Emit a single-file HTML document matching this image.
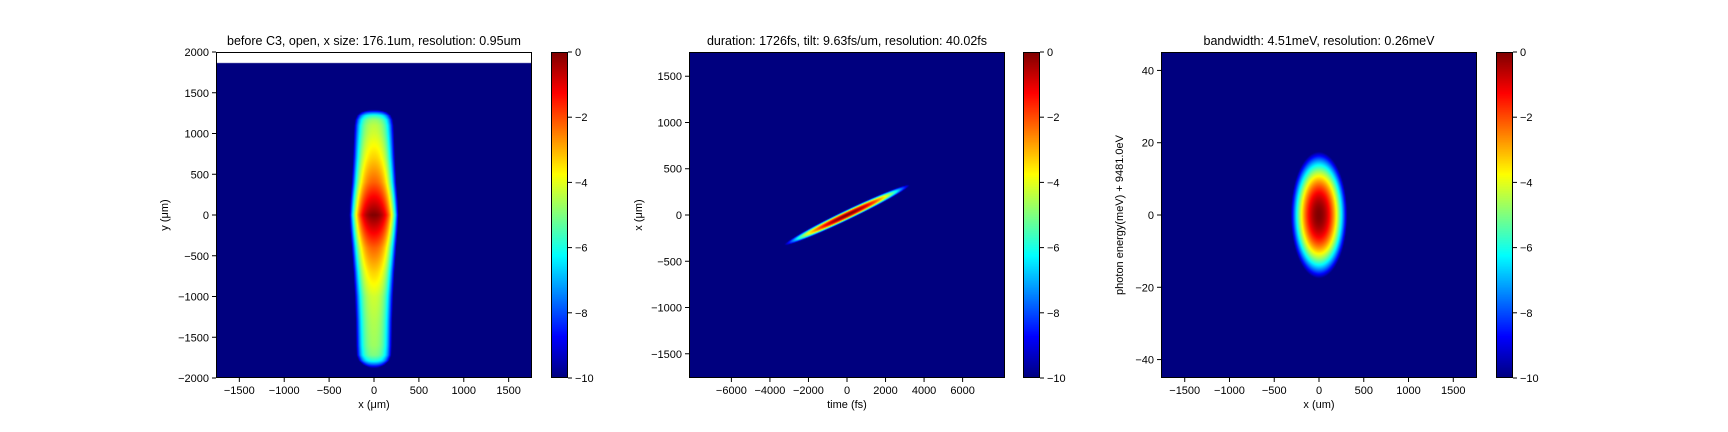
<!DOCTYPE html>
<html><head><meta charset="utf-8"><style>
html,body{margin:0;padding:0;background:#fff;width:1728px;height:432px;overflow:hidden;font-family:"Liberation Sans","DejaVu Sans",sans-serif}
canvas{position:absolute}
svg{position:absolute;left:0;top:0}
</style></head><body>
<div id="root" style="position:relative;width:1728px;height:432px">
<canvas id="c1"></canvas>
<canvas id="c2"></canvas>
<canvas id="c3"></canvas>
<canvas id="cb1"></canvas>
<canvas id="cb2"></canvas>
<canvas id="cb3"></canvas>
<svg id="ov" width="1728" height="432"></svg>
</div>
<script>
// ---- data ----
const titles = ["before C3, open, x size: 176.1um, resolution: 0.95um","duration: 1726fs, tilt: 9.63fs/um, resolution: 40.02fs","bandwidth: 4.51meV, resolution: 0.26meV"];
const xLabels = ["x (\u03bcm)","time (fs)","x (um)"];
const yLabels = ["y (\u03bcm)","x (\u03bcm)","photon energy(meV) + 9481.0eV"];
const xTicks1 = [-1500,-1000,-500,0,500,1000,1500];
const yTicks1 = [-2000,-1500,-1000,-500,0,500,1000,1500,2000];
const xTicks2 = [-6000,-4000,-2000,0,2000,4000,6000];
const yTicks2 = [-1500,-1000,-500,0,500,1000,1500];
const xTicks3 = [-1500,-1000,-500,0,500,1000,1500];
const yTicks3 = [-40,-20,0,20,40];
const cbTicks = [0,-2,-4,-6,-8,-10];
// panel 1 beam profile knots (log10 intensity)
const p1Y = [-1880,-1840,-1790,-1720,-1600,-1300,-1000,-700,-400,-200,0,200,400,700,1000,1100,1170,1220,1260,1290];
const p1Center = [-10,-8,-6,-5,-4.7,-4.5,-4.2,-3.3,-2.2,-1.1,0,-1.1,-2.2,-3.3,-4.2,-4.4,-4.8,-5.8,-7.8,-10];
const p1HalfW = [40,120,170,195,200,205,215,230,250,265,275,265,250,235,225,220,210,190,150,60];
const p1DataTop = 1870;
// panel 2 tilted pulse
const p2Slope = 0.099, p2LenT = 3250, p2WidX = 60;
// panel 3 spectrum ellipse
const p3RadX = 315, p3RadY = 17.5;

const panels = [
 {L:216,R:532,T:52,B:378,x0:-1760,x1:1760,y0:-2000,y1:2000,xt:xTicks1,yt:yTicks1,cb:[551,568]},
 {L:689,R:1005,T:52,B:378,x0:-8200,x1:8200,y0:-1762,y1:1762,xt:xTicks2,yt:yTicks2,cb:[1023,1040]},
 {L:1161,R:1477,T:52,B:378,x0:-1765,x1:1765,y0:-45.1,y1:45.1,xt:xTicks3,yt:yTicks3,cb:[1496,1513]}
];

function jet(v){
  const c=t=>Math.max(0,Math.min(1,t));
  const r=c(1.5-Math.abs(4*v-3)), g=c(1.5-Math.abs(4*v-2)), b=c(1.5-Math.abs(4*v-1));
  return [r*255|0,g*255|0,b*255|0];
}
function interp(xs,ys,x){
  if(x<=xs[0])return ys[0]; if(x>=xs[xs.length-1])return ys[ys.length-1];
  for(let i=1;i<xs.length;i++) if(x<=xs[i]){const f=(x-xs[i-1])/(xs[i]-xs[i-1]);return ys[i-1]+f*(ys[i]-ys[i-1]);}
}
const fields=[
 (x,y)=>{ if(y>p1DataTop) return null; const c=interp(p1Y,p1Center,y), hw=interp(p1Y,p1HalfW,y); const u=Math.abs(x)/hw; return c-(10+c)*(0.45*u*u+0.55*Math.pow(u,4)); },
 (t,x)=>{ const s=t, d=x-p2Slope*t; return -10*((s*s)/(p2LenT*p2LenT)+(d*d)/(p2WidX*p2WidX)); },
 (x,y)=>-10*((x*x)/(p3RadX*p3RadX)+(y*y)/(p3RadY*p3RadY))
];
const ov=document.getElementById('ov');
const NS='http://www.w3.org/2000/svg';
function el(tag,attrs,txt){const e=document.createElementNS(NS,tag);for(const k in attrs)e.setAttribute(k,attrs[k]);if(txt!==undefined)e.textContent=txt;ov.appendChild(e);return e;}
const fmt=v=>v<0?'\u2212'+Math.abs(v):String(v);

panels.forEach((p,i)=>{
  const W=p.R-p.L,H=p.B-p.T;
  const cv=document.getElementById('c'+(i+1));
  cv.width=W;cv.height=H;cv.style.left=p.L+'px';cv.style.top=p.T+'px';
  const ctx=cv.getContext('2d');const img=ctx.createImageData(W,H);
  for(let py=0;py<H;py++){const y=p.y1-(py+0.5)/H*(p.y1-p.y0);
    for(let px=0;px<W;px++){const x=p.x0+(px+0.5)/W*(p.x1-p.x0);
      let v=fields[i](x,y);const k=(py*W+px)*4;
      if(v===null){img.data[k]=255;img.data[k+1]=255;img.data[k+2]=255;img.data[k+3]=255;continue;}
      v=Math.max(-10,Math.min(0,v));const c=jet((v+10)/10);
      img.data[k]=c[0];img.data[k+1]=c[1];img.data[k+2]=c[2];img.data[k+3]=255;}}
  ctx.putImageData(img,0,0);
  const cb=document.getElementById('cb'+(i+1));const cw=p.cb[1]-p.cb[0];
  cb.width=cw;cb.height=H;cb.style.left=p.cb[0]+'px';cb.style.top=p.T+'px';
  const cc=cb.getContext('2d');
  for(let py=0;py<H;py++){const c=jet(1-py/(H-1));cc.fillStyle=`rgb(${c[0]},${c[1]},${c[2]})`;cc.fillRect(0,py,cw,1);}
  const sx=v=>p.L+(v-p.x0)/(p.x1-p.x0)*W, sy=v=>p.B-(v-p.y0)/(p.y1-p.y0)*H;
  const frame=el('rect',{x:p.L+0.5,y:p.T+0.5,width:W-1,height:H-1,fill:'none',stroke:'#000','stroke-width':1});
  
  
  const cbf=el('rect',{x:p.cb[0]+0.5,y:p.T+0.5,width:cw-1,height:H-1,fill:'none',stroke:'#000','stroke-width':1});
  
  
  p.xt.forEach(v=>{const x=sx(v);
    el('line',{x1:x,x2:x,y1:p.B,y2:p.B+4,stroke:'#000'});
    const t=el('text',{x:x,y:p.B+16,'font-size':11,'text-anchor':'middle'},fmt(v));
    
    });
  p.yt.forEach(v=>{const y=sy(v);if(y<p.T-0.5||y>p.B+0.5)return;
    el('line',{x1:p.L-4,x2:p.L,y1:y,y2:y,stroke:'#000'});
    const t=el('text',{x:p.L-7,y:y+4,'font-size':11,'text-anchor':'end'},fmt(v));
    
    });
  cbTicks.forEach(v=>{const y=p.T+(-v)/10*H;
    el('line',{x1:p.cb[1],x2:p.cb[1]+4,y1:y,y2:y,stroke:'#000'});
    const t=el('text',{x:p.cb[1]+7,y:y+4,'font-size':11},fmt(v));
    
    });
  const tt=el('text',{x:(p.L+p.R)/2,y:p.T-7,'font-size':12.5,'text-anchor':'middle'},titles[i]);
  
  
  const xl=el('text',{x:(p.L+p.R)/2,y:p.B+30,'font-size':11,'text-anchor':'middle'},xLabels[i]);
  
  
  const yx=p.L-(i===2?38:i===1?47:48), ym=(p.T+p.B)/2;
  const yl=el('text',{x:yx,y:ym,'font-size':11,'text-anchor':'middle',transform:`rotate(-90 ${yx} ${ym})`},yLabels[i]);
  
  
});
</script>
</body></html>
